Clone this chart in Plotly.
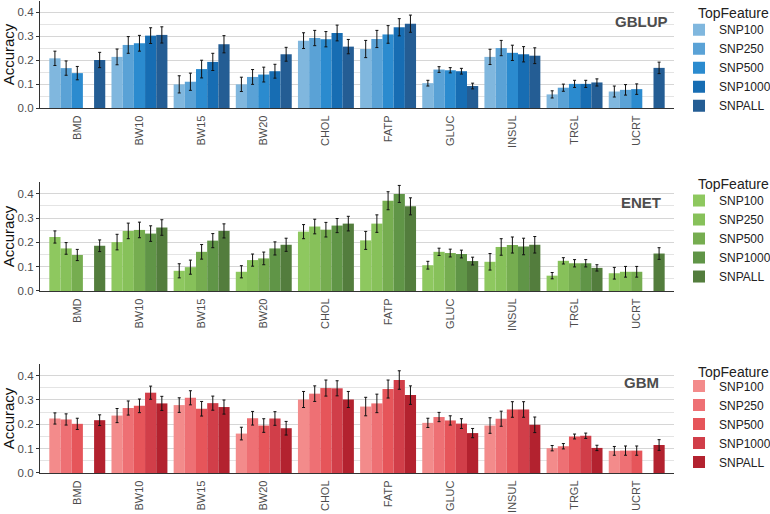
import plotly.graph_objects as go

traits = ["BMD", "BW10", "BW15", "BW20", "CHOL", "FATP", "GLUC", "INSUL", "TRGL", "UCRT"]
features = ["SNP100", "SNP250", "SNP500", "SNP1000", "SNPALL"]
models = ["GBLUP", "ENET", "GBM"]

# Accuracy per model, per feature (values across traits)
gblup_acc = {
    "SNP100":  [0.208, 0.214, 0.099, 0.099, 0.282, 0.247, 0.104, 0.214, 0.057, 0.069],
    "SNP250":  [0.167, 0.264, 0.110, 0.130, 0.293, 0.289, 0.161, 0.251, 0.085, 0.076],
    "SNP500":  [0.146, 0.271, 0.163, 0.140, 0.288, 0.308, 0.158, 0.231, 0.101, 0.079],
    "SNP1000": [None,  0.303, 0.193, 0.154, 0.314, 0.338, 0.154, 0.225, 0.101, None],
    "SNPALL":  [0.201, 0.306, 0.267, 0.225, 0.257, 0.353, 0.092, 0.219, 0.107, 0.168],
}
gblup_err = {
    "SNP100":  [0.030, 0.033, 0.036, 0.030, 0.033, 0.036, 0.012, 0.032, 0.015, 0.023],
    "SNP250":  [0.030, 0.035, 0.036, 0.031, 0.032, 0.036, 0.012, 0.032, 0.015, 0.022],
    "SNP500":  [0.028, 0.033, 0.037, 0.031, 0.032, 0.037, 0.011, 0.032, 0.015, 0.022],
    "SNP1000": [None,  0.033, 0.036, 0.029, 0.033, 0.036, 0.012, 0.032, 0.015, None],
    "SNPALL":  [0.032, 0.034, 0.036, 0.029, 0.030, 0.036, 0.012, 0.033, 0.015, 0.024],
}
enet_acc = {
    "SNP100":  [0.222, 0.201, 0.083, 0.079, 0.244, 0.208, 0.106, 0.120, 0.063, 0.073],
    "SNP250":  [0.175, 0.247, 0.098, 0.127, 0.265, 0.277, 0.161, 0.181, 0.124, 0.079],
    "SNP500":  [0.148, 0.251, 0.161, 0.134, 0.252, 0.371, 0.156, 0.189, 0.114, 0.079],
    "SNP1000": [None,  0.236, 0.207, 0.175, 0.269, 0.399, 0.152, 0.183, 0.114, None],
    "SNPALL":  [0.186, 0.261, 0.247, 0.190, 0.277, 0.348, 0.123, 0.190, 0.095, 0.154],
}
enet_err = {
    "SNP100":  [0.025, 0.032, 0.029, 0.025, 0.029, 0.037, 0.016, 0.034, 0.013, 0.024],
    "SNP250":  [0.024, 0.032, 0.029, 0.025, 0.030, 0.036, 0.015, 0.034, 0.013, 0.022],
    "SNP500":  [0.023, 0.032, 0.030, 0.026, 0.030, 0.037, 0.016, 0.033, 0.015, 0.022],
    "SNP1000": [None,  0.032, 0.029, 0.027, 0.029, 0.035, 0.016, 0.034, 0.015, None],
    "SNPALL":  [0.024, 0.032, 0.029, 0.027, 0.030, 0.035, 0.016, 0.034, 0.013, 0.024],
}
gbm_acc = {
    "SNP100":  [0.224, 0.236, 0.279, 0.162, 0.302, 0.273, 0.206, 0.195, 0.102, 0.091],
    "SNP250":  [0.220, 0.267, 0.309, 0.225, 0.326, 0.286, 0.230, 0.223, 0.110, 0.092],
    "SNP500":  [0.202, 0.276, 0.264, 0.195, 0.349, 0.345, 0.216, 0.261, 0.150, 0.092],
    "SNP1000": [None,  0.330, 0.287, 0.224, 0.348, 0.382, 0.203, 0.261, 0.153, None],
    "SNPALL":  [0.217, 0.286, 0.271, 0.184, 0.302, 0.320, 0.164, 0.198, 0.103, 0.115],
}
gbm_err = {
    "SNP100":  [0.023, 0.029, 0.030, 0.026, 0.033, 0.038, 0.019, 0.032, 0.011, 0.018],
    "SNP250":  [0.023, 0.029, 0.029, 0.028, 0.032, 0.038, 0.019, 0.031, 0.011, 0.019],
    "SNP500":  [0.023, 0.028, 0.030, 0.028, 0.033, 0.037, 0.019, 0.032, 0.010, 0.019],
    "SNP1000": [None,  0.027, 0.029, 0.028, 0.031, 0.038, 0.020, 0.032, 0.011, None],
    "SNPALL":  [0.022, 0.029, 0.029, 0.028, 0.033, 0.038, 0.019, 0.032, 0.011, 0.022],
}

blues = ["#80b7de", "#5aa2d6", "#2b8bcf", "#176db3", "#245d94"]
greens = ["#8ec85f", "#87c15a", "#76ad50", "#609547", "#537d3d"]
reds = ["#f38b8b", "#ee7074", "#e6555a", "#d13e49", "#b3222f"]

yticks = [0.0, 0.1, 0.2, 0.3, 0.4]
ytick_text = ["0.0", "0.1", "0.2", "0.3", "0.4"]

panel_data = [(gblup_acc, gblup_err, blues), (enet_acc, enet_err, greens), (gbm_acc, gbm_err, reds)]
domains = [(0.7733, 1.0), (0.3856, 0.6165), (0.0, 0.231)]
legend_tops = [0.970, 0.608, 0.215]
legend_title_y = [0.9746, 0.6123, 0.214]

FONT = "Liberation Sans, Arial, sans-serif"
fig = go.Figure()

for p, (acc, err, cols) in enumerate(panel_data):
    suffix = "" if p == 0 else str(p + 1)
    for i, f in enumerate(features):
        fig.add_trace(go.Bar(
            x=traits, y=acc[f], name=f,
            marker=dict(color=cols[i], line=dict(width=0)),
            error_y=dict(type="data", array=err[f], color="#111111", thickness=1, width=1.5),
            xaxis="x" + suffix, yaxis="y" + suffix,
            legend="legend" + suffix, offsetgroup=str(i),
        ))

layout = dict(
    width=770, height=514,
    margin=dict(l=40, r=96, t=1, b=41, autoexpand=False),
    plot_bgcolor="white", paper_bgcolor="white",
    barmode="group", bargap=0.1, bargroupgap=0,
    font=dict(family=FONT, color="#222222"),
    annotations=[],
)

for p in range(3):
    suffix = "" if p == 0 else str(p + 1)
    layout["xaxis" + suffix] = dict(
        domain=[0, 1], anchor="y" + suffix, type="category",
        categoryorder="array", categoryarray=traits,
        range=[-0.6, 9.6], tickangle=-90,
        tickfont=dict(size=11, color="#4d4d4d", family=FONT),
        showline=True, linecolor="#333333", linewidth=1.2,
        ticks="", ticklabelstandoff=2,
        showgrid=False, zeroline=False,
    )
    layout["yaxis" + suffix] = dict(
        domain=list(domains[p]), anchor="x" + suffix,
        range=[0, 0.448], tickvals=yticks, ticktext=ytick_text,
        tickfont=dict(size=11.5, color="#4d4d4d", family=FONT),
        showline=True, linecolor="#333333", linewidth=1.2,
        ticks="outside", ticklen=3, tickcolor="#333333",
        showgrid=True, gridcolor="#d6d6d6", gridwidth=1,
        minor=dict(tickvals=[0.05, 0.15, 0.25, 0.35, 0.45], showgrid=True,
                   gridcolor="#e4e4e4", gridwidth=1, ticks=""),
        zeroline=False,
        title=dict(text="Accuracy", font=dict(size=15, color="#111111", family=FONT), standoff=6),
    )
    layout["legend" + suffix] = dict(
        x=1.0079, xanchor="left", y=legend_tops[p], yanchor="top",
        font=dict(size=12, color="#222222", family=FONT),
        bgcolor="rgba(0,0,0,0)", tracegroupgap=0, itemclick=False, itemwidth=30,
    )
    layout["annotations"].append(dict(
        text="<b>" + models[p] + "</b>", xref="x" + suffix + " domain", yref="y" + suffix + " domain",
        x=0.948, y=[0.81, 0.816, 0.826][p], xanchor="center", yanchor="middle",
        showarrow=False, font=dict(size=15, color="#4d4d4d", family=FONT),
    ))
    layout["annotations"].append(dict(
        text="TopFeature", xref="paper", yref="paper",
        x=1.0347, y=legend_title_y[p], xanchor="left", yanchor="middle",
        showarrow=False, font=dict(size=14, color="#222222", family=FONT),
    ))

fig.update_layout(**layout)
fig.write_html("out.html", post_script="document.body.style.margin='0px';",
               config={"displayModeBar": False})
